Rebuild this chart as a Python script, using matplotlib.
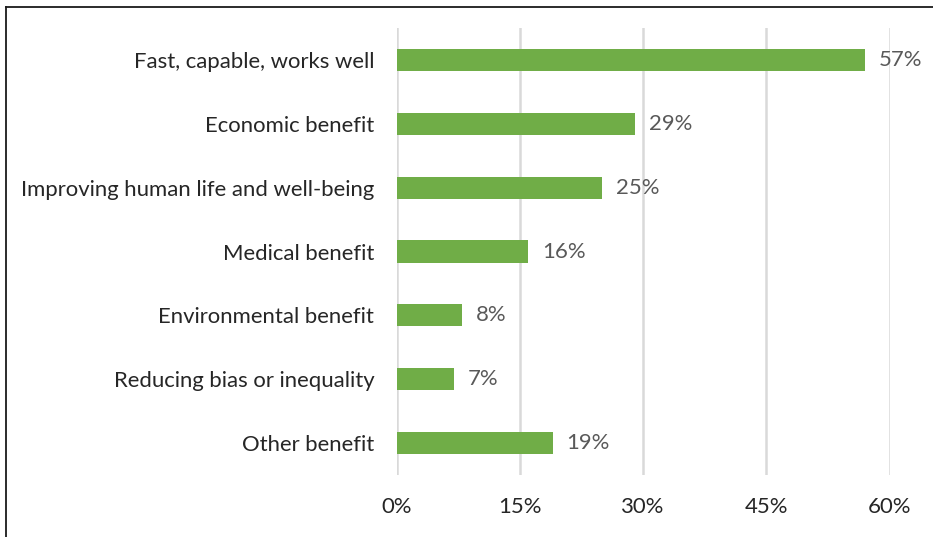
import matplotlib
matplotlib.use("Agg")
import matplotlib.pyplot as plt
from matplotlib.lines import Line2D
from matplotlib.ticker import FuncFormatter

categories = [
    "Fast, capable, works well",
    "Economic benefit",
    "Improving human life and well-being",
    "Medical benefit",
    "Environmental benefit",
    "Reducing bias or inequality",
    "Other benefit",
]
values = [57, 29, 25, 16, 8, 7, 19]
x_ticks = [0, 15, 30, 45, 60]

plt.rcParams["font.family"] = ["Lato", "DejaVu Sans"]

W, H = 933, 537
fig = plt.figure(figsize=(W / 100, H / 100), dpi=100)
ax = fig.add_axes([396.5 / W, 1 - 475 / H, (889.5 - 396.5) / W, (475 - 28) / H])

ypos = list(range(len(categories)))
ax.barh(ypos, values, height=0.345, color="#70AD47", zorder=3)
ax.set_ylim(len(categories) - 0.5, -0.5)
ax.set_xlim(0, 60)

ax.set_xticks(x_ticks)
ax.xaxis.set_major_formatter(FuncFormatter(lambda v, p: f"{v:.0f}%"))
ax.set_yticks(ypos)
ax.set_yticklabels(categories)

ax.grid(axis="x", color="#D9D9D9", linewidth=1.8, zorder=0)
ax.grid(axis="y", visible=False)
for s in ax.spines.values():
    s.set_visible(False)

fs = 15.9
ax.tick_params(axis="y", length=0, pad=16, labelsize=fs, labelcolor="#262626")
ax.tick_params(axis="x", length=0, pad=16, labelsize=fs, labelcolor="#262626")

for y, v in zip(ypos, values):
    ax.annotate(f"{v}%", xy=(v, y), xytext=(10, 0), textcoords="offset points",
                va="center", ha="left", fontsize=fs, color="#595959")

# Frame lines along the top and left edges
fig.add_artist(Line2D([5.5 / W, 5.5 / W], [0, 1 - 7 / H], transform=fig.transFigure,
                      color="#1a1a1a", linewidth=1.3))
fig.add_artist(Line2D([5.5 / W, 1], [1 - 7 / H, 1 - 7 / H], transform=fig.transFigure,
                      color="#1a1a1a", linewidth=1.3))

fig.savefig("out.png", dpi=100)
